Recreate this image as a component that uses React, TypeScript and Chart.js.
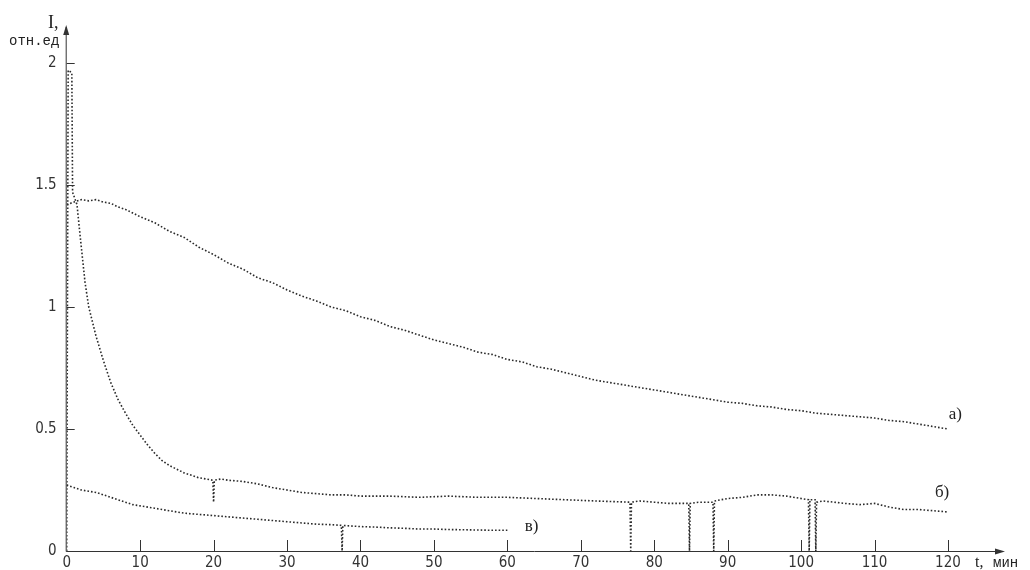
import React, { useEffect, useRef } from "react";
import { Chart, registerables } from "chart.js";

Chart.register(...registerables);

// Curve a)
const aTime = [0, 1, 2, 3, 4, 5, 6, 7, 8, 9, 10, 12, 14, 16, 18, 20, 22, 24, 26, 28, 30, 32, 34, 36, 38, 40, 42, 44, 46, 48, 50, 52, 54, 56, 58, 60, 62, 64, 66, 68, 70, 72, 74, 76, 78, 80, 82, 84, 86, 88, 90, 92, 94, 96, 98, 100, 102, 104, 106, 108, 110, 112, 114, 116, 118, 120];
const aValues = [1.42, 1.43, 1.44, 1.435, 1.44, 1.43, 1.425, 1.41, 1.4, 1.385, 1.37, 1.345, 1.31, 1.285, 1.245, 1.215, 1.18, 1.155, 1.12, 1.1, 1.07, 1.045, 1.025, 1.0, 0.985, 0.96, 0.945, 0.92, 0.905, 0.885, 0.865, 0.85, 0.835, 0.815, 0.805, 0.785, 0.775, 0.755, 0.745, 0.73, 0.715, 0.7, 0.69, 0.68, 0.67, 0.66, 0.65, 0.64, 0.63, 0.62, 0.61, 0.605, 0.595, 0.59, 0.58, 0.575, 0.565, 0.56, 0.555, 0.55, 0.545, 0.535, 0.53, 0.52, 0.51, 0.5];

// Curve б)
const bTime = [0, 0.2, 0.7, 0.8, 1.4, 1.8, 2.5, 3, 4, 5, 6, 7, 8, 9, 10, 11, 12, 13, 14, 15, 16, 17, 18, 19, 19.9, 20, 20.1, 21, 22, 24, 26, 28, 30, 32, 34, 36, 38, 40, 44, 48, 52, 56, 60, 64, 68, 72, 76.7, 76.8, 76.9, 78, 80, 82, 84.7, 84.8, 84.9, 86, 88, 88.1, 88.2, 90, 92, 94, 96, 98, 100, 101, 101.1, 101.2, 101.9, 102, 102.1, 103, 106, 108, 110, 112, 114, 116, 118, 120];
const bValues = [0, 1.97, 1.96, 1.47, 1.42, 1.3, 1.1, 1.0, 0.88, 0.78, 0.69, 0.62, 0.565, 0.515, 0.475, 0.435, 0.4, 0.37, 0.35, 0.335, 0.32, 0.31, 0.3, 0.295, 0.29, 0.2, 0.29, 0.295, 0.29, 0.285, 0.275, 0.26, 0.25, 0.24, 0.235, 0.23, 0.23, 0.225, 0.225, 0.22, 0.225, 0.22, 0.22, 0.215, 0.21, 0.205, 0.2, 0, 0.2, 0.205, 0.2, 0.195, 0.195, 0, 0.195, 0.2, 0.2, 0, 0.205, 0.215, 0.22, 0.23, 0.23, 0.225, 0.215, 0.21, 0, 0.21, 0.21, 0, 0.2, 0.205, 0.195, 0.19, 0.195, 0.18, 0.17, 0.17, 0.165, 0.16];

// Curve в)
const cTime = [0, 1, 2, 3, 4, 5, 6, 7, 8, 9, 10, 12, 14, 16, 18, 20, 22, 24, 26, 28, 30, 32, 34, 36, 37.4, 37.5, 37.6, 38, 40, 42, 44, 46, 48, 50, 52, 54, 56, 58, 60];
const cValues = [0.27, 0.26, 0.25, 0.245, 0.24, 0.23, 0.22, 0.21, 0.2, 0.19, 0.185, 0.175, 0.165, 0.155, 0.15, 0.145, 0.14, 0.135, 0.13, 0.125, 0.12, 0.115, 0.11, 0.108, 0.105, 0, 0.105, 0.104, 0.1, 0.098, 0.095, 0.093, 0.09, 0.09, 0.088, 0.087, 0.086, 0.085, 0.085];

const xTicks = [0, 10, 20, 30, 40, 50, 60, 70, 80, 90, 100, 110, 120];
const yTicks = [0, 0.5, 1, 1.5, 2];

const curveLabels = [
  { text: "а)", x: 121, y: 0.56 },
  { text: "б)", x: 119.2, y: 0.24 },
  { text: "в)", x: 63.3, y: 0.1 },
];

const INK = "#2a2a2a";
const TICK_FONT = "'Liberation Sans Narrow', 'DejaVu Sans Condensed', 'Liberation Sans', sans-serif";

const pts = (t: number[], v: number[]) => t.map((x, i) => ({ x, y: v[i] }));

const decorPlugin = {
  id: "decor",
  afterDraw(chart: any) {
    const { ctx } = chart;
    const xs = chart.scales.x;
    const ys = chart.scales.y;
    const x0 = xs.getPixelForValue(0);
    const y0 = ys.getPixelForValue(0);
    ctx.save();
    ctx.strokeStyle = "#333";
    ctx.fillStyle = "#333";
    ctx.lineWidth = 1;
    // axes
    const xEnd = 1003;
    const yTop = 27;
    ctx.beginPath();
    ctx.moveTo(x0 - 0.5, y0 + 0.5);
    ctx.lineTo(xEnd, y0 + 0.5);
    ctx.moveTo(x0 - 0.5, y0 + 0.5);
    ctx.lineTo(x0 - 0.5, yTop);
    ctx.stroke();
    // arrows
    ctx.beginPath();
    ctx.moveTo(xEnd + 2, y0 + 0.5);
    ctx.lineTo(xEnd - 8, y0 - 2.5);
    ctx.lineTo(xEnd - 8, y0 + 3.5);
    ctx.closePath();
    ctx.fill();
    ctx.beginPath();
    ctx.moveTo(x0 - 0.5, yTop - 2);
    ctx.lineTo(x0 - 3.5, yTop + 8);
    ctx.lineTo(x0 + 2.5, yTop + 8);
    ctx.closePath();
    ctx.fill();
    // x ticks (inward)
    ctx.beginPath();
    xTicks.forEach((v) => {
      if (v === 0) return;
      const px = Math.round(xs.getPixelForValue(v)) + 0.5;
      ctx.moveTo(px, y0);
      ctx.lineTo(px, y0 - 11);
    });
    // y ticks (inward)
    yTicks.forEach((v) => {
      if (v === 0) return;
      const py = Math.round(ys.getPixelForValue(v)) + 0.5;
      ctx.moveTo(x0, py);
      ctx.lineTo(x0 + 8, py);
    });
    ctx.stroke();
    // axis titles
    ctx.fillStyle = "#222";
    ctx.textBaseline = "alphabetic";
    ctx.textAlign = "left";
    ctx.font = "18px 'Liberation Serif', serif";
    ctx.fillText("I,", 48, 28);
    ctx.font = "14px 'Liberation Mono', monospace";
    ctx.fillText("отн.ед", 9, 45);
    ctx.font = "16px 'Liberation Serif', serif";
    ctx.fillText("t,", 975, 567);
    ctx.font = "14px 'Liberation Mono', monospace";
    ctx.fillText("мин", 993, 567);
    // curve labels
    ctx.font = "17px 'Liberation Serif', serif";
    ctx.textAlign = "center";
    ctx.textBaseline = "middle";
    curveLabels.forEach((l) => {
      ctx.fillText(l.text, xs.getPixelForValue(l.x), ys.getPixelForValue(l.y));
    });
    ctx.restore();
  },
};

export default function App() {
  const ref = useRef<HTMLCanvasElement | null>(null);
  useEffect(() => {
    document.body.style.margin = "0";
    if (!ref.current) return;
    const lineDs = (data: any) => ({
      data,
      borderColor: INK,
      borderWidth: 1.6,
      borderDash: [1.6, 2],
      pointRadius: 0,
      tension: 0,
      fill: false,
    });
    const chart = new Chart(ref.current, {
      type: "line",
      data: {
        datasets: [
          lineDs(pts(aTime, aValues)),
          lineDs(pts(bTime, bValues)),
          lineDs(pts(cTime, cValues)),
        ],
      },
      plugins: [decorPlugin],
      options: {
        animation: false,
        responsive: false,
        devicePixelRatio: 1,
        parsing: false as any,
        layout: { padding: { top: 38.6, right: 82, left: 0, bottom: 0 } },
        plugins: { legend: { display: false }, tooltip: { enabled: false } },
        scales: {
          x: {
            type: "linear",
            min: 0,
            max: 120,
            grid: { display: false, drawTicks: false },
            border: { display: false },
            afterBuildTicks: (s: any) => {
              s.ticks = xTicks.map((v) => ({ value: v }));
            },
            afterFit: (s: any) => {
              s.height = 19;
            },
            ticks: {
              padding: 3,
              maxRotation: 0,
              autoSkip: false,
              color: "#333",
              font: { family: TICK_FONT, size: 15 },
              callback: (v: any) => String(v),
            },
          },
          y: {
            type: "linear",
            min: 0,
            max: 2.1,
            grid: { display: false, drawTicks: false },
            border: { display: false },
            afterBuildTicks: (s: any) => {
              s.ticks = yTicks.map((v) => ({ value: v }));
            },
            afterFit: (s: any) => {
              s.width = 66.7;
            },
            ticks: {
              padding: 10,
              color: "#333",
              font: { family: TICK_FONT, size: 15 },
              callback: (v: any) => String(v),
            },
          },
        },
      },
    });
    return () => chart.destroy();
  }, []);
  return (
    <div style={{ width: 1030, height: 570 }}>
      <canvas ref={ref} width={1030} height={570} style={{ display: "block" }} />
    </div>
  );
}
